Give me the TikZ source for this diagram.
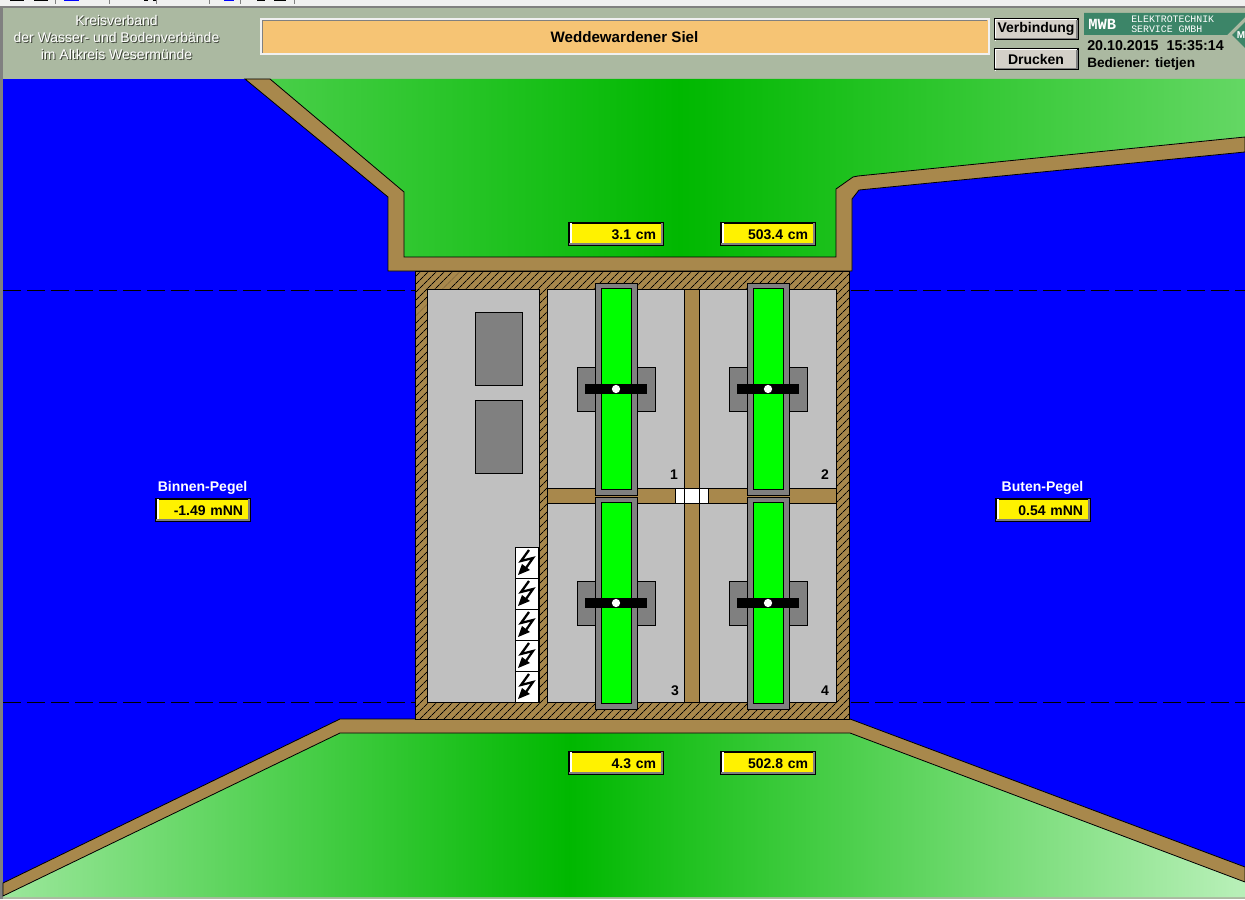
\documentclass[tikz,border=0pt]{standalone}
\usepackage{fontspec}
\usepackage{xcolor}
\usetikzlibrary{patterns.meta}
\setmainfont{Liberation Sans}
\newfontfamily\logofont{Liberation Mono}

\definecolor{panelgray}{RGB}{171,185,161}
\definecolor{barwhite}{RGB}{240,240,240}
\definecolor{wallbrown}{RGB}{168,136,76}
\definecolor{roomgray}{RGB}{192,192,192}
\definecolor{gategray}{RGB}{128,128,128}
\definecolor{gategreen}{RGB}{0,255,0}
\definecolor{fieldgreen}{RGB}{0,184,0}
\definecolor{fieldedge}{RGB}{100,215,100}
\definecolor{fieldpale}{RGB}{185,240,185}
\definecolor{titleorange}{RGB}{246,196,116}
\definecolor{buttongray}{RGB}{212,208,200}
\definecolor{logogreen}{RGB}{60,133,104}
\definecolor{embossgray}{RGB}{60,65,55}

\newcommand{\scadatext}{\bfseries\fontsize{10.5}{12}\selectfont}
\newcommand{\embossed}[1]{\leavevmode\rlap{\kern.75pt\raisebox{-.75pt}{\textcolor{embossgray}{#1}}}#1}

\tikzset{
	outline/.style={draw=black, line width=0.6pt},
	valuebox/.style={outline, fill=yellow, minimum height=16.5pt, inner ysep=0pt, inner xsep=5.25pt,
		text width=60pt, align=right, text height=7.5pt, text depth=0pt, font=\scadatext},
	buttonbox/.style={outline, fill=buttongray, minimum width=62.5pt, minimum height=15.5pt, inner sep=0pt, font=\scadatext},
	plain/.style={inner sep=0pt, font=\scadatext},
	levelline/.style={line width=0.5pt, dash pattern=on 13.5pt off 4.5pt},
	blitz/.pic={
		\draw[outline, fill=white] (0,0) rectangle (23,31);
		\draw[line width=1.7pt, line join=miter] (14,3) -- (6,14) -- (18,11) -- (11,21);
		\fill (3,28) -- (7,17) -- (11,20) -- (15,23) -- cycle;
	}
}

\begin{document}
\begin{tikzpicture}[x=0.75pt, y=-0.75pt]
	\useasboundingbox (0,0) rectangle (1245,899);
	% WINDOW
	\fill[panelgray] (0,0) rectangle (1245,899);
	\fill[barwhite] (0,0) rectangle (1245,6);
	\fill[gray] (0,6) rectangle (1245,8);
	\fill[gray] (0,8) rectangle (3,899);
	\foreach \tx/\tw/\tc in {10/14/black, 34/14/black, 64/15/blue, 144/4/black, 153/4/black, 224/10/blue, 257/8/black, 274/12/black}
		\fill[\tc] (\tx,0) rectangle ++(\tw,1.5);
	\foreach \tx in {55, 109, 156, 209, 240, 294}
		\fill[gray] (\tx,0) rectangle ++(1,4);
	% WATER
	\fill[blue] (3,79) rectangle (1245,897);
	\draw[levelline] (3,290) -- (415,290);
	\draw[levelline] (851,290) -- (1245,290);
	\draw[levelline] (3,702.5) -- (415,702.5);
	\draw[levelline] (851,702.5) -- (1245,702.5);
	% UPPER BANK
	\begin{scope}
		\clip (270,79) -- (1245,79) -- (1245,137) -- (858,176) -- (853,177) -- (836,189) -- (836,257) -- (404,257) -- (404,192) -- cycle;
		\shade[left color=fieldedge, right color=fieldedge, middle color=fieldgreen] (115,79) rectangle (1245,257);
	\end{scope}
	\draw[outline, fill=wallbrown] (245,79) -- (270,79) -- (404,192) -- (404,257) -- (836,257) -- (836,189) -- (853,177) -- (858,176) -- (1245,137) -- (1245,152) -- (859,190) -- (852,199) -- (852,271) -- (388,271) -- (388,197) -- cycle;
	% LOWER BANK
	\begin{scope}
		\clip (340,733) -- (850,733) -- (1245,882) -- (1245,897) -- (3,897) -- (3,896) -- cycle;
		\shade[left color=fieldpale, right color=fieldpale, middle color=fieldgreen] (-105,733) rectangle (1245,897);
	\end{scope}
	\draw[outline, fill=wallbrown] (340,719) -- (850,719) -- (1245,867) -- (1245,882) -- (850,733) -- (340,733) -- (3,896) -- (3,883) -- cycle;
	% BUILDING
	\fill[wallbrown] (415,271) rectangle (849.5,719.5);
	\fill[pattern={Lines[angle=45, distance=4pt, line width=0.7pt]}, pattern color=black] (415,271) rectangle (849.5,719.5);
	\draw[outline] (415,271) rectangle (849.5,719.5);
	\draw[outline, fill=roomgray] (427,289.5) rectangle (539,702.5);
	\draw[outline, fill=roomgray] (547.5,289.5) rectangle (836.5,702.5);
	\draw[outline, fill=gategray] (475,312) rectangle (522.5,385.5);
	\draw[outline, fill=gategray] (475,400) rectangle (522.5,473);
	\foreach \by in {547, 578, 609, 640, 671}
		\pic at (515,\by) {blitz};
	% CHANNELS
	\draw[outline, fill=wallbrown] (684,289.5) rectangle (699,702.5);
	\draw[outline, fill=wallbrown] (547.5,488) rectangle (836.5,503);
	\draw[outline, fill=white] (675,488) rectangle (708,503);
	\draw[outline] (684,488) -- (684,503);
	\draw[outline] (699,488) -- (699,503);
	% GATES
	\foreach \gx/\gy in {616/389, 768/389, 616/603, 768/603} {
		\draw[outline, fill=gategray] (\gx-39,\gy-22) rectangle (\gx+39,\gy+22);
		\draw[outline, fill=gategray] (\gx-21,\gy-106) rectangle (\gx+21,\gy+106);
		\draw[outline, fill=gategreen] (\gx-15,\gy-101) rectangle (\gx+15,\gy+100);
		\fill[black] (\gx-31,\gy-5) rectangle (\gx+31,\gy+5);
		\fill[white] (\gx,\gy) circle (3.1pt);
	}
	\node[plain] (gateone) at (674,474.5) {1};
	\node[plain] (gatetwo) at (825,474.5) {2};
	\node[plain] (gatethree) at (675,690.5) {3};
	\node[plain] (gatefour) at (825,690.5) {4};
	% VALUES
	\foreach \nm/\vx/\vy/\vt in {gaptop/616/234/3.1 cm, lifttop/768/234/503.4 cm, gapbottom/616/763/4.3 cm, liftbottom/768/763/502.8 cm, binnen/203/510/-1.49 mNN, buten/1043/510/0.54 mNN} {
		\node[valuebox] (\nm) at (\vx,\vy) {\vt};
		\draw[white, line width=1.5pt] ([xshift=1.5pt]\nm.south west) -- ([xshift=1.5pt]\nm.north west);
		\draw[gategray, line width=1.5pt] ([xshift=-1.2pt]\nm.north east) -- ([xshift=-1.2pt]\nm.south east);
		\draw[gategray, line width=1.5pt] ([yshift=1.2pt]\nm.south west) -- ([yshift=1.2pt]\nm.south east);
		\draw[outline] (\nm.north west) rectangle (\nm.south east);
	}
	\node[plain, text=white] (binnenlabel) at (202.5,487.5) {Binnen-Pegel};
	\node[plain, text=white] (butenlabel) at (1042.5,487.5) {Buten-Pegel};
	% HEADER
	\node[inner sep=0pt, align=center, text=white, font=\fontsize{10.5}{12.6}\selectfont] (verband) at (116.5,38) {\embossed{Kreisverband}\\\embossed{der Wasser- und Bodenverbände}\\\embossed{im Altkreis Wesermünde}};
	\draw[draw=barwhite, line width=1.5pt, fill=titleorange] (260.5,19.5) rectangle (988.5,54.5);
	\draw[gray, line width=0.75pt] (262,53) -- (262,21) -- (987,21);
	\node[inner sep=0pt, font=\bfseries\fontsize{11.35}{13}\selectfont] (title) at (624.5,37) {Weddewardener Siel};
	\node[buttonbox] (verbindung) at (1036,29) {Verbindung};
	\node[buttonbox] (drucken) at (1036,59) {Drucken};
	\foreach \nm in {verbindung, drucken} {
		\draw[white, line width=1pt] ([shift={(1pt,-1pt)}]\nm.south west) -- ([shift={(1pt,-1pt)}]\nm.north west) -- ([shift={(-1pt,-1pt)}]\nm.north east);
		\draw[gategray, line width=1.2pt] ([shift={(-1pt,-1pt)}]\nm.north east) -- ([shift={(-1pt,1pt)}]\nm.south east) -- ([shift={(1pt,1pt)}]\nm.south west);
		\draw[outline] (\nm.north west) rectangle (\nm.south east);
	}
	% LOGO
	\fill[logogreen] (1084,13) -- (1245,13) -- (1245,17) -- (1227,35) -- (1084,35) -- cycle;
	\fill[logogreen] (1232,35) -- (1245,22) -- (1245,48) -- cycle;
	\node[inner sep=0pt, anchor=west, text=white, font=\logofont\bfseries\fontsize{11.6}{12}\selectfont] (mwb) at (1088,24) {MWB};
	\node[inner sep=0pt, anchor=west, align=left, text=white, font=\logofont\fontsize{7.4}{7.8}\selectfont] (service) at (1131,24) {ELEKTROTECHNIK\\SERVICE GMBH};
	\node[inner sep=0pt, text=white, font=\bfseries\fontsize{7.5}{8}\selectfont] (mark) at (1241,35) {M};
	\node[inner sep=0pt, anchor=west, font=\bfseries\fontsize{10.7}{12}\selectfont] (datum) at (1087,46) {20.10.2015\ \ 15:35:14};
	\node[inner sep=0pt, anchor=west, font=\bfseries\fontsize{10.2}{12}\selectfont] (bediener) at (1087,63.5) {Bediener: tietjen};
\end{tikzpicture}
\end{document}
